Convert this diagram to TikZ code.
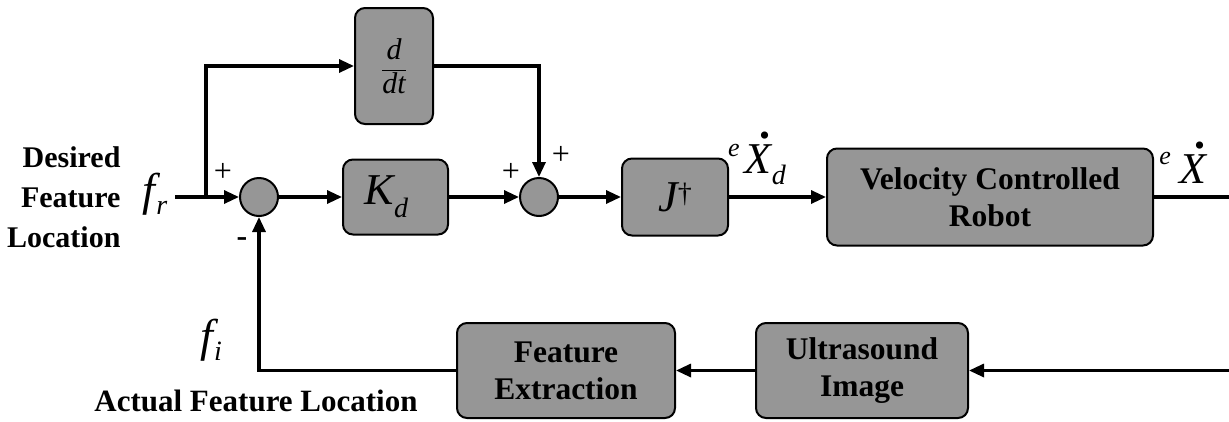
\documentclass[tikz,border=0pt]{standalone}
\usepackage{fontspec}
\setmainfont{Liberation Serif}[
  UprightFont={Liberation Serif},
  BoldFont={Liberation Serif Bold},
  ItalicFont={Liberation Serif Italic},
  BoldItalicFont={Liberation Serif Bold Italic}]
\newfontfamily\tmsit{Liberation Serif Italic}
\usetikzlibrary{arrows.meta}
\definecolor{boxgray}{RGB}{150,150,150}
\newcommand{\myfs}[1]{\fontsize{#1}{#1}\selectfont}
\newcommand{\dotX}{\rlap{\hspace{0.34em}\raisebox{0.8em}{\normalfont\bfseries .}}X}
\begin{document}
\begin{tikzpicture}[x=1pt,y=-1pt,
  blk/.style={draw, line width=2pt, fill=boxgray, rounded corners=10pt, inner sep=0pt, align=center},
  sumj/.style={circle, draw, line width=2pt, fill=boxgray, minimum size=38pt, inner sep=0pt},
  conn/.style={line width=3.2pt, -{Triangle[length=15pt,width=13pt]}},
  wire/.style={line width=3.2pt},
  btxt/.style={font=\fontsize{31.5}{37}\selectfont\bfseries},
  mlbl/.style={inner sep=0pt},
  pm/.style={inner sep=0pt, font=\myfs{32}}
]
\useasboundingbox (0,0) rectangle (1229,421);

% blocks
\node[blk, minimum width=78pt, minimum height=116pt] (ddt) at (394,66)
  {\myfs{30}$\displaystyle\frac{\mbox{\tmsit d}}{\mbox{\tmsit dt}}$};
\node[blk, minimum width=105pt, minimum height=75pt] (kd) at (395.5,197)
  {\myfs{44}\tmsit K\raisebox{-0.3em}{\myfs{28}d}\hspace{18pt}};
\node[blk, minimum width=106pt, minimum height=77pt] (jp) at (675,197)
  {\myfs{44}\tmsit J\raisebox{0.2em}{\normalfont\myfs{28}†}};
\node[blk, btxt, minimum width=326pt, minimum height=97pt] (robot) at (990,197)
  {Velocity Controlled\\Robot};
\node[blk, btxt, minimum width=218pt, minimum height=95pt] (fe) at (566,370.5)
  {Feature\\Extraction};
\node[blk, btxt, minimum width=212pt, minimum height=95pt] (us) at (862,370.5)
  {Ultrasound\\Image};
\node[sumj] (s1) at (259,197) {};
\node[sumj] (s2) at (539,197) {};

% free ends
\coordinate (in) at (175,197);
\coordinate (br) at (206,197);
\coordinate (outr) at (1229,197);
\coordinate (fbr) at (1229,370.5);

% connectors
\draw[conn] (in) -- (s1);
\draw[conn] (br) |- (ddt.west);
\draw[conn] (ddt.east) -| (s2.north);
\draw[conn] (s1) -- (kd);
\draw[conn] (kd) -- (s2);
\draw[conn] (s2) -- (jp);
\draw[conn] (jp) -- (robot);
\draw[wire] (robot) -- (outr);
\draw[conn] (fbr) -- (us);
\draw[conn] (us) -- (fe);
\draw[conn] (fe.west) -| (s1.south);

% signs
\node[pm] (p1) at (223,172) {+};
\node[pm] (m1) at (242,242) {\bfseries -};
\node[pm] (p2) at (511,172) {+};
\node[pm] (p3) at (561,155) {+};

% math labels
\node[mlbl] (fr) at (155,194) {\myfs{46}\tmsit f\hspace{1pt}\raisebox{-0.2em}{\myfs{28}r}};
\node[mlbl] (fi) at (211,340) {\myfs{46}\tmsit f\hspace{1pt}\raisebox{-0.2em}{\myfs{28}i}};
\node[mlbl] (exd) at (757,158)
  {\myfs{44}\tmsit\raisebox{0.39em}{\myfs{26}e}\hspace{0.12em}\dotX\raisebox{-0.25em}{\myfs{28}d}};
\node[mlbl] (ex) at (1183,163)
  {\myfs{44}\tmsit\raisebox{0.45em}{\myfs{26}e}\hspace{0.2em}\dotX};

% text labels
\node[anchor=east, align=right, font=\fontsize{30}{40}\selectfont\bfseries] (desc) at (124,197)
  {Desired\\Feature\\Location};
\node[font=\myfs{31}\bfseries] (act) at (256,401) {Actual Feature Location};
\end{tikzpicture}
\end{document}
